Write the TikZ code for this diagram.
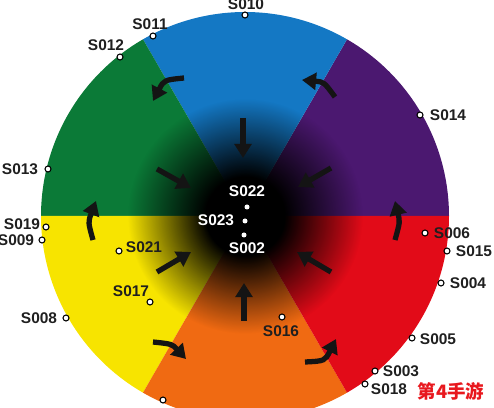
\documentclass[tikz,border=0pt]{standalone}
\usepackage{fontspec}
\setmainfont{Liberation Sans}
\newfontfamily\cjk{Noto Sans CJK SC}
\usetikzlibrary{arrows.meta,fadings}
\pgfdeclareradialshading{cfadeshade}{\pgfpoint{0bp}{0bp}}{color(0bp)=(white); color(8bp)=(white); color(16bp)=(black!50!white); color(24bp)=(black); color(50bp)=(black)}
\pgfdeclarefading{cfade}{\pgfuseshading{cfadeshade}}
\definecolor{wpurple}{HTML}{4B1870}
\definecolor{wblue}{HTML}{1478C4}
\definecolor{wgreen}{HTML}{0B7A37}
\definecolor{wyellow}{HTML}{F7E400}
\definecolor{worange}{HTML}{F06A12}
\definecolor{wred}{HTML}{E20B18}
\definecolor{wmark}{HTML}{E8181E}
\tikzset{
  bigarr/.style={line width=3pt, -{Triangle[length=8pt,width=9.5pt]}, black!92},
  sdot/.style={circle,draw=black,fill=white,line width=0.6pt,inner sep=0pt,minimum size=0.12cm},
  wdot/.style={circle,fill=white,inner sep=0pt,minimum size=0.1cm},
  lbl/.style={font=\bfseries\fontsize{8.8}{10}\selectfont, text=black!88, inner sep=0pt},
  wlbl/.style={lbl, text=white}
}
\begin{document}
\begin{tikzpicture}[x=0.02cm,y=-0.02cm]
\useasboundingbox (0,0) rectangle (494,408);
\clip (0,0) rectangle (494,408);
\coordinate (C) at (245,216);
% sectors
\fill[wpurple] (C) -- ++(0:204) arc[start angle=0,end angle=-60,radius=204] -- cycle;
\fill[wblue] (C) -- ++(-60:204) arc[start angle=-60,end angle=-120,radius=204] -- cycle;
\fill[wgreen] (C) -- ++(-120:204) arc[start angle=-120,end angle=-180,radius=204] -- cycle;
\fill[wyellow] (C) -- ++(-180:204) arc[start angle=-180,end angle=-240,radius=204] -- cycle;
\fill[worange] (C) -- ++(-240:204) arc[start angle=-240,end angle=-300,radius=204] -- cycle;
\fill[wred] (C) -- ++(-300:204) arc[start angle=-300,end angle=-360,radius=204] -- cycle;
% dark centre
\fill[black, path fading=cfade] (C) circle[radius=122];
% straight arrows
\draw[bigarr] (243,118) -- (243,158);
\draw[bigarr] (157,169) -- (191,188);
\draw[bigarr] (331,168) -- (298,187);
\draw[bigarr] (157,272) -- (191,252);
\draw[bigarr] (331,272) -- (297,252);
\draw[bigarr] (244,321) -- (244,283);
% curved arrows
\draw[bigarr] (184,78) .. controls (164,80) .. (153,101);
\draw[bigarr] (335,97) .. controls (324,82) .. (302,80);
\draw[bigarr] (93,240) .. controls (88,222) .. (96,201);
\draw[bigarr] (395,240) .. controls (400,222) .. (395,201);
\draw[bigarr] (153,342) .. controls (172,344) .. (186,359);
\draw[bigarr] (305,362) .. controls (325,361) .. (336,339);
% outer dots and labels
\node[sdot] (d010) at (245,15) {};  \node[lbl] (l010) at (246,4) {S010};
\node[sdot] (d011) at (153,36) {};  \node[lbl] (l011) at (150,24) {S011};
\node[sdot] (d012) at (120,57) {};  \node[lbl] (l012) at (106,45) {S012};
\node[sdot] (d013) at (48,169) {};  \node[lbl] (l013) at (20,169) {S013};
\node[sdot] (d014) at (420,115) {}; \node[lbl] (l014) at (448,115) {S014};
\node[sdot] (d019) at (46,227) {};  \node[lbl] (l019) at (22,224) {S019};
\node[sdot] (d009) at (42,240) {};  \node[lbl] (l009) at (16,240) {S009};
\node[sdot] (d021) at (119,251) {}; \node[lbl] (l021) at (144,247) {S021};
\node[sdot] (d017) at (150,302) {}; \node[lbl] (l017) at (131,291) {S017};
\node[sdot] (d008) at (66,318) {};  \node[lbl] (l008) at (39,318) {S008};
\node[sdot] (dbot) at (163,400) {};
\node[sdot] (d006) at (425,233) {}; \node[lbl] (l006) at (452,233) {S006};
\node[sdot] (d015) at (447,251) {}; \node[lbl] (l015) at (474,251) {S015};
\node[sdot] (d004) at (441,283) {}; \node[lbl] (l004) at (468,283) {S004};
\node[sdot] (d016) at (282,317) {}; \node[lbl] (l016) at (281,331) {S016};
\node[sdot] (d005) at (412,338) {}; \node[lbl] (l005) at (438,339) {S005};
\node[sdot] (d003) at (375,371) {}; \node[lbl] (l003) at (401,371) {S003};
\node[sdot] (d018) at (365,384) {}; \node[lbl] (l018) at (389,389) {S018};
% centre dots and labels
\node[wdot] (d022) at (247,207) {}; \node[wlbl] (l022) at (247,191) {S022};
\node[wdot] (d023) at (245,221) {}; \node[wlbl] (l023) at (216,220) {S023};
\node[wdot] (d002) at (244,235) {}; \node[wlbl] (l002) at (247,248) {S002};
% watermark
\node[text=wmark, font=\cjk\bfseries\fontsize{10.5}{11}\selectfont, inner sep=0pt] (wm) at (451,391) {第4手游};
\end{tikzpicture}
\end{document}
